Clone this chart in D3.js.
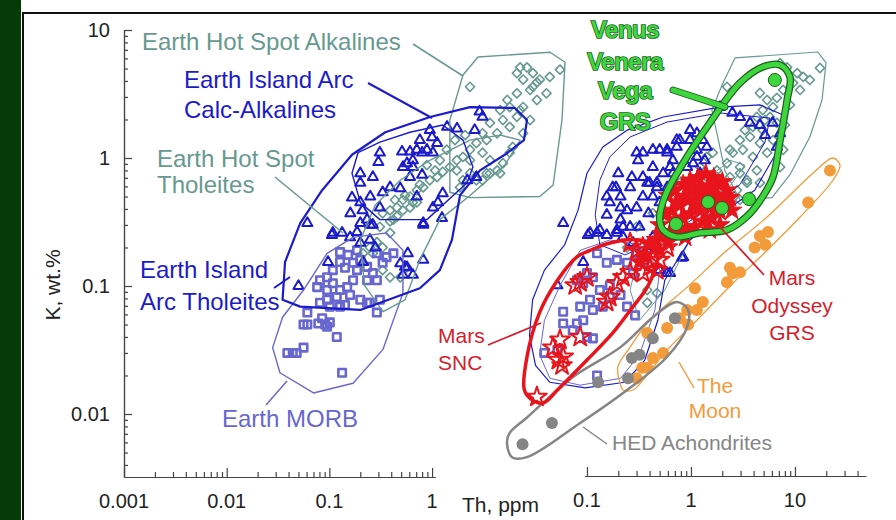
<!DOCTYPE html>
<html>
<head>
<meta charset="utf-8">
<script src="https://cdn.jsdelivr.net/npm/d3@7"></script>
<style>
  html, body { margin: 0; padding: 0; background: #fff; }
  svg { display: block; font-family: "Liberation Sans", Arial, sans-serif; }
</style>
</head>
<body>
<script>
// ---- data: [Th ppm, K wt.%] ----
// left panel (Earth only)
const leftArc = [
  [2.9,2.3],[3.1,2.1],[2.6,1.65],[1.75,1.7],[1.4,1.75],[0.95,1.65],[1.0,1.45],[0.76,1.38],[0.51,1.12],[0.31,1.1],
  [0.61,1.12],[0.71,1.16],[0.8,1.1],[0.89,1.16],[1.02,1.1],[1.12,1.31],[0.65,0.96],[0.57,0.91],[0.52,0.85],[0.65,0.85],
  [0.8,0.74],[0.61,0.71],[0.3,0.93],[0.2,0.76],[0.265,0.71],[0.2,0.64],[0.39,0.59],[0.49,0.58],[0.33,0.54],[1.27,0.53],
  [0.166,0.49],[0.2,0.45],[0.25,0.5],[0.21,0.39],[0.31,0.41],[0.16,0.37],[0.061,0.31],[0.108,0.26],[0.2,0.31],[0.25,0.3],
  [0.82,0.31],[1.25,0.34],[2.2,0.67],[2.7,0.71],[1.14,0.45],[0.71,0.5],[0.106,0.25],[0.133,0.26],[0.159,0.24],[0.186,0.264],
  [0.233,0.33],[0.265,0.3],[0.248,0.229],[0.2,0.217],[0.28,0.2],[0.097,0.154],[0.05,0.1],[0.213,0.154],[0.49,0.15],[0.52,0.122],
  [0.65,0.122],[0.57,0.14],[0.82,0.16],[0.82,0.3],[0.58,0.18],[1.02,0.41],[0.545,0.141]
];
const leftHotSpot = [
  [2.34,3.6],[6.7,4.6],[8.4,5.1],[9.6,4.6],[7.7,4.1],[10.5,3.9],[9.0,3.4],[6.7,3.2],[5.4,2.84],[5.7,2.5],
  [4.6,2.37],[7.7,2.5],[6.7,2.1],[4.9,1.98],[3.66,1.88],[5.7,1.75],[4.3,1.56],[3.1,1.56],[3.4,1.38],[2.7,1.31],
  [2.34,1.16],[2.0,1.02],[1.74,0.96],[2.34,0.96],[1.49,0.85],[1.27,0.78],[1.74,0.8],[1.12,0.71],[0.95,0.67],[0.82,0.59],
  [0.71,0.56],[0.61,0.5],[0.52,0.47],[0.455,0.41],[0.39,0.39],[0.61,0.41],[0.71,0.45],[0.33,0.37],[0.455,0.35],[0.39,0.32],
  [0.31,0.29],[3.4,0.76],[2.7,0.67],[4.3,0.8],[4.9,0.91],[5.7,1.1],[3.66,0.96],[3.1,1.1],[2.34,0.76],[2.0,0.67],
  [7.2,5.1],[11.2,4.1],[14,4.3],[17.6,4.9],[9.6,3.6],[13,3.2],[10.5,2.84],[7.2,2.37],[9.0,1.98],[7.7,1.56],
  [6.1,1.22],[3.66,0.76],[4.6,0.76],[3.1,0.67],[1.87,0.59],[0.42,0.33],[0.39,0.26],[0.29,0.22],[0.248,0.2],[0.33,0.2],
  [0.52,0.39],[0.65,0.45],[0.213,0.18],[0.57,0.14],[0.49,0.117],[0.265,0.18],[0.33,0.133],[0.39,0.117],[0.89,0.88],[1.19,0.96],
  [1.39,1.16],[1.67,1.38],[2.1,1.51],[1.07,0.8],[0.76,0.62],[0.545,0.51],[0.435,0.47]
];
const leftMorb = [
  [0.127,0.184],[0.152,0.175],[0.127,0.154],[0.17,0.152],[0.2,0.16],[0.186,0.133],[0.17,0.111],[0.149,0.098],[0.127,0.093],[0.108,0.105],
  [0.095,0.117],[0.081,0.111],[0.076,0.098],[0.095,0.093],[0.118,0.082],[0.095,0.078],[0.081,0.074],[0.101,0.069],[0.127,0.069],[0.233,0.141],
  [0.29,0.18],[0.36,0.168],[0.42,0.18],[0.33,0.152],[0.265,0.126],[0.233,0.111],[0.29,0.111],[0.2,0.078],[0.248,0.074],[0.31,0.078],
  [0.186,0.19],[0.061,0.062],[0.056,0.05],[0.078,0.051],[0.095,0.048],[0.085,0.056],[0.101,0.052],[0.118,0.04],[0.29,0.062],[0.044,0.03],
  [0.039,0.03],[0.056,0.033],[0.133,0.021],[0.048,0.03],[0.091,0.05],[0.061,0.05],[0.233,0.074],[0.108,0.133],[0.142,0.139],[0.159,0.085],
  [0.142,0.071]
];
// right panel
const rightArc = [
  [0.98,1.65],[1.14,1.56],[0.78,1.38],[0.73,1.22],[0.98,1.38],[1.3,1.38],[0.59,1.1],[0.67,0.96],[0.5,1.16],[0.3,1.1],
  [0.31,0.96],[0.43,0.85],[0.54,0.76],[0.67,0.76],[0.92,0.85],[1.14,1.02],[1.22,0.76],[0.2,0.76],[0.27,0.71],[0.19,0.59],
  [0.21,0.5],[0.166,0.45],[0.38,0.64],[0.47,0.59],[0.59,0.59],[0.43,0.5],[0.345,0.5],[0.5,0.45],[0.3,0.41],[0.243,0.39],
  [0.155,0.36],[0.133,0.274],[0.107,0.26],[0.059,0.31],[0.194,0.274],[0.26,0.29],[0.21,0.33],[0.39,0.37],[0.73,1.38],[0.59,1.16],
  [0.43,1.16],[0.345,1.1],[1.14,1.16],[1.42,1.22],[1.36,0.96],[1.05,0.91],[2.5,2.25],[2.96,2.09],[3.7,1.88],[6.1,1.88],
  [7.2,1.56],[6.7,1.22],[0.63,0.85],[0.47,0.64],[0.102,0.25],[0.125,0.26],[0.155,0.25],[0.194,0.26],[0.222,0.242],[0.092,0.154],
  [0.052,0.101],[0.82,0.166],[0.63,0.126],[0.5,0.133],[0.155,0.5],[0.21,0.41],[0.177,0.59],[0.26,0.59],[0.345,0.71],[0.4,0.64],
  [0.222,0.29],[0.32,0.29],[0.43,0.242],[0.277,0.217],[0.38,0.19],[0.84,0.168],[0.59,0.126],[1.9,2.5],[4.6,1.81],[5.15,1.51]
];
const rightHotSpot = [
  [7.2,5.5],[8.4,5.1],[10.5,4.6],[12,4.3],[17.4,5.05],[9.6,3.86],[7.7,3.4],[6.7,2.95],[5.4,2.84],[6.15,2.5],
  [4.9,2.37],[4.3,2.09],[5.75,2.09],[6.7,1.88],[3.94,1.75],[4.9,1.65],[3.7,1.46],[2.96,1.38],[4.6,1.31],[6.15,1.38],
  [3.16,1.16],[2.53,1.1],[3.94,1.02],[5.4,1.1],[2.22,0.91],[2.96,0.85],[4.3,0.8],[1.78,0.8],[2.37,0.71],[3.46,0.67],
  [1.42,0.71],[1.9,0.59],[2.77,0.56],[4.6,0.64],[2.96,0.47],[3.7,0.5],[2.03,0.5],[7.2,0.85],[7.7,1.16],[2.22,3.6],
  [4.6,3.22],[11.2,3.4],[13.9,4.07],[1.42,1.02],[1.22,0.85],[1.62,1.1],[1.78,0.71],[0.78,0.64],[0.43,0.37],[0.3,0.29],
  [2.96,0.76],[3.46,0.64],[0.4,0.217],[0.32,0.16],[0.5,0.19],[0.38,0.093],[0.47,0.088],[0.243,0.2],[0.38,0.074],[0.98,0.56],
  [1.22,0.47],[2.37,1.16],[3.3,1.65],[5.15,1.98],[8.95,2.6],[8.0,1.81]
];
const rightMorb = [
  [0.125,0.18],[0.155,0.152],[0.1,0.126],[0.114,0.117],[0.092,0.105],[0.133,0.093],[0.166,0.082],[0.107,0.078],[0.086,0.069],[0.114,0.065],
  [0.142,0.069],[0.194,0.16],[0.243,0.152],[0.3,0.18],[0.345,0.152],[0.277,0.126],[0.243,0.069],[0.29,0.059],[0.059,0.063],[0.059,0.051],
  [0.08,0.051],[0.073,0.045],[0.114,0.039],[0.1,0.04],[0.039,0.03],[0.052,0.0316],[0.125,0.02],[0.092,0.054],[0.08,0.111],[0.166,0.101],
  [0.21,0.085]
];
const marsSnc = [
  [0.033,0.0136],[0.053,0.0264],[0.0575,0.024],[0.047,0.033],[0.055,0.038],[0.086,0.04],[0.077,0.101],[0.086,0.107],[0.155,0.075],[0.166,0.082],
  [0.194,0.105],[0.222,0.117],[0.26,0.128],[0.345,0.126],[0.4,0.141],[0.47,0.133],[0.43,0.16],[0.3,0.19],[0.345,0.2],[0.26,0.217],
  [0.59,0.2],[0.059,0.028],[0.1,0.117],[0.5,0.16]
];
const marsOdyssey = [
  [0.6,0.51],[0.7,0.56],[0.84,0.62],[0.98,0.67],[1.17,0.7],[1.39,0.75],[1.66,0.7],[2.0,0.65],[2.22,0.56],[2.37,0.49],
  [2.17,0.43],[1.9,0.38],[1.59,0.34],[1.3,0.32],[1.09,0.29],[0.9,0.28],[0.75,0.274],[0.63,0.264],[0.53,0.255],[0.46,0.23],
  [0.66,0.39],[0.78,0.43],[0.94,0.47],[1.12,0.51],[1.33,0.54],[1.59,0.51],[1.81,0.47],[1.52,0.41],[1.22,0.39],[0.98,0.365],
  [0.82,0.34],[0.7,0.33],[1.02,0.59],[1.22,0.6],[1.46,0.6],[0.86,0.5],[0.72,0.45],[0.56,0.36],[0.5,0.3],[0.4,0.21],
  [0.36,0.175],[0.32,0.154],[0.5,0.19],[0.6,0.22],[0.88,0.24],[1.52,0.274],[1.9,0.3],[2.48,0.39],[1.7,0.58],[1.09,0.43],
  [1.36,0.47],[2.12,0.51]
];
const moon = [
  [21.7,0.8],[13.4,0.45],[5.5,0.264],[4.6,0.246],[4.1,0.2],[5.2,0.21],[2.96,0.128],[2.53,0.126],[2.22,0.107],[2.37,0.139],
  [1.3,0.075],[1.14,0.065],[0.92,0.065],[0.94,0.05],[0.78,0.056],[1.09,0.096],[0.59,0.047],[0.38,0.043],[0.54,0.03],[0.43,0.0274],
  [0.34,0.023],[0.3,0.019],[0.38,0.023]
];
const hed = [[0.024,0.0058],[0.046,0.0085],[0.128,0.0177],[0.248,0.019],[0.27,0.0274],[0.32,0.029],[0.43,0.039],[0.7,0.056]];
const venus = [[6.4,4.07],[1.46,0.453],[1.99,0.407],[3.61,0.478],[0.717,0.305]];

// field envelopes
const envLeftAlk = [[2.0,4.45],[2.8,6.15],[14.1,6.7],[19.7,5.6],[18.4,1.98],[15.1,0.615],[11.2,0.5],[2.34,0.49],[1.49,0.54],[1.49,1.98]];
const envLeftArc = [[0.035,0.078],[0.037,0.154],[0.052,0.31],[0.085,0.56],[0.166,1.06],[0.35,1.59],[0.955,2.09],[2.34,2.5],[6.4,2.46],[8.4,1.98],
  [7.85,1.38],[5.1,1.06],[2.93,0.8],[1.87,0.51],[1.56,0.229],[1.19,0.133],[0.76,0.096],[0.2,0.065],[0.052,0.069]];
const envLeftCalc = [[1.27,1.81],[2.0,1.38],[2.5,0.85],[2.19,0.64],[0.89,0.33],[0.31,0.33],[0.2,0.45],[0.166,0.76],[0.19,1.1],[0.31,1.33],[0.61,1.59]];
const envLeftThol = [[0.333,0.063],[0.22,0.101],[0.2,0.229],[0.28,0.43],[0.49,0.67],[0.95,0.96],[2.34,1.38],[4.6,1.51],[7.2,1.38],[5.1,0.88],
  [2.34,0.51],[1.19,0.33],[0.76,0.16],[0.545,0.078]];
const envLeftMorb = [[0.056,0.093],[0.095,0.18],[0.17,0.24],[0.36,0.26],[0.52,0.19],[0.52,0.088],[0.333,0.032],[0.17,0.0174],[0.07,0.0146],[0.033,0.021],[0.028,0.033],[0.035,0.057]];
const envRightAlk = [[1.99,3.72],[2.65,6.05],[16.6,6.73],[19.9,5.53],[18.2,2.84],[13.9,1.46],[8.95,0.74],[6.0,0.49],[2.96,0.47],[2.12,0.8],[1.59,2.37]];
const envRightArc = [[1.9,2.5],[0.54,2.09],[0.243,1.65],[0.142,1.22],[0.1,0.76],[0.082,0.39],[0.061,0.21],[0.039,0.133],[0.03,0.078],[0.028,0.041],
  [0.032,0.024],[0.044,0.0177],[0.096,0.016],[0.232,0.0177],[0.36,0.0264],[0.48,0.054],[0.56,0.111],[0.98,0.229],[1.9,0.36],[4.1,0.56],
  [6.9,1.16],[7.7,2.17],[4.6,2.6]];
const envRightCalc = [[1.9,2.25],[0.59,1.91],[0.26,1.46],[0.166,1.02],[0.133,0.67],[0.12,0.36],[0.133,0.21],[0.232,0.175],[0.5,0.229],[1.22,0.36],
  [2.96,0.62],[5.15,1.33],[5.75,2.05]];
const envRightThol = [[0.32,0.054],[0.26,0.093],[0.32,0.19],[0.63,0.36],[1.22,0.62],[2.37,0.96],[3.3,0.88],[1.9,0.47],[0.98,0.23],[0.56,0.093]];
const envRightMorb = [[0.086,0.19],[0.055,0.101],[0.039,0.054],[0.035,0.029],[0.044,0.019],[0.086,0.0168],[0.21,0.019],[0.32,0.029],[0.45,0.065],[0.5,0.133],[0.32,0.21],[0.166,0.229]];
const envSnc = [[0.08,0.169],[0.052,0.111],[0.035,0.062],[0.0265,0.028],[0.025,0.0154],[0.0296,0.0129],[0.038,0.0122],[0.052,0.0154],[0.1,0.0264],
  [0.177,0.043],[0.277,0.069],[0.38,0.098],[0.47,0.152],[0.47,0.2],[0.32,0.229],[0.166,0.217],[0.107,0.19]];
const envVenus = [[0.5,0.33],[0.56,0.5],[0.84,0.91],[1.52,1.88],[2.96,3.86],[4.9,5.14],[7.2,5.33],[8.95,4.29],[8.4,2.84],[7.2,1.38],
  [6.15,0.71],[4.9,0.5],[3.46,0.35],[2.22,0.274],[1.22,0.26],[0.73,0.242],[0.54,0.274]];
const envMoon = [[0.208,0.0174],[0.198,0.0233],[0.26,0.0333],[0.4,0.054],[0.92,0.098],[2.22,0.19],[5.4,0.346],[14.9,0.76],[23.2,1.0],[27.1,0.88],
  [23.2,0.67],[11.2,0.346],[5.4,0.19],[2.53,0.105],[1.14,0.054],[0.59,0.0316],[0.345,0.0184],[0.277,0.0154],[0.222,0.0154]];
const envHed = [[0.73,0.075],[0.94,0.065],[0.92,0.048],[0.59,0.028],[0.243,0.0154],[0.086,0.0085],[0.0265,0.0046],[0.019,0.0046],[0.017,0.006],
  [0.018,0.0071],[0.0265,0.0094],[0.073,0.0194],[0.21,0.0333],[0.43,0.057]];

// ticks
const yMajor = [0.01, 0.1, 1, 10];
const yLabels = ["0.01", "0.1", "1", "10"];
const xLeftMajor = [0.001, 0.01, 0.1, 1];
const xLeftLabels = ["0.001", "0.01", "0.1", "1"];
const xRightMajor = [0.1, 1, 10];
const xRightLabels = ["0.1", "1", "10"];

// ---- setup ----
const width = 896, height = 520;
const svg = d3.select("body").append("svg").attr("width", width).attr("height", height);

svg.append("rect").attr("width", width).attr("height", height).attr("fill", "#fff");
svg.append("rect").attr("width", 21).attr("height", height).attr("fill", "#053b06");
svg.append("line").attr("x1", 22).attr("x2", width).attr("y1", 13).attr("y2", 13).attr("stroke", "#111").attr("stroke-width", 2);
svg.append("line").attr("x1", 23).attr("x2", 23).attr("y1", 12).attr("y2", height).attr("stroke", "#111").attr("stroke-width", 2);

const y = d3.scaleLog().domain([0.00322, 10]).range([477, 30]);
const xL = d3.scaleLog().domain([0.001, 1.07]).range([124, 435.1]);
const xR = d3.scaleLog().domain([0.0955, 48]).range([584.9, 865.8]);

const teal = "#66998f", blue = "#1b1bcc", slate = "#6767cf", red = "#e8141c",
  redText = "#d4202c", orange = "#f39b3a", gray = "#858585", green = "#3dd63d", greenDark = "#1e5e1e";

// minor log ticks (2..9 in each decade) inside a domain
function minors(scale) {
  const [lo, hi] = scale.domain();
  const out = [];
  for (let e = -4; e <= 2; e++)
    for (let m = 2; m <= 9; m++) {
      const v = m * Math.pow(10, e);
      if (v >= lo && v <= hi) out.push(v);
    }
  return out;
}

function styleAxis(g) {
  g.selectAll("path, line").attr("stroke", "#444").attr("stroke-width", 1.2);
  g.selectAll("text").remove();
}

// y axis (ticks point inward)
svg.append("g").attr("transform", "translate(124,0)")
  .call(d3.axisLeft(y).tickValues(minors(y)).tickSizeInner(-4).tickSizeOuter(0)).call(styleAxis);
svg.append("g").attr("transform", "translate(124,0)")
  .call(d3.axisLeft(y).tickValues(yMajor).tickSizeInner(-8).tickSizeOuter(0)).call(styleAxis);
// left x axis
svg.append("g").attr("transform", "translate(0,477)")
  .call(d3.axisBottom(xL).tickValues(minors(xL)).tickSizeInner(-5).tickSizeOuter(0)).call(styleAxis);
svg.append("g").attr("transform", "translate(0,477)")
  .call(d3.axisBottom(xL).tickValues(xLeftMajor).tickSizeInner(-9).tickSizeOuter(0)).call(styleAxis);
// right x axis
svg.append("g").attr("transform", "translate(0,476)")
  .call(d3.axisBottom(xR).tickValues(minors(xR)).tickSizeInner(-5).tickSizeOuter(0)).call(styleAxis);
svg.append("g").attr("transform", "translate(0,476)")
  .call(d3.axisBottom(xR).tickValues(xRightMajor).tickSizeInner(-9).tickSizeOuter(0)).call(styleAxis);

const tickText = { fill: "#222", size: "20px" };
svg.append("g").selectAll("text").data(yMajor).join("text")
  .attr("x", 110).attr("y", d => y(d)).attr("dy", "0.35em")
  .attr("text-anchor", "end").attr("font-size", tickText.size).attr("fill", tickText.fill)
  .text((d, i) => yLabels[i]);
svg.append("g").selectAll("text").data(xLeftMajor).join("text")
  .attr("x", d => xL(d)).attr("y", 508)
  .attr("text-anchor", "middle").attr("font-size", tickText.size).attr("fill", tickText.fill)
  .text((d, i) => xLeftLabels[i]);
svg.append("g").selectAll("text").data(xRightMajor).join("text")
  .attr("x", d => xR(d)).attr("y", 507)
  .attr("text-anchor", "middle").attr("font-size", tickText.size).attr("fill", tickText.fill)
  .text((d, i) => xRightLabels[i]);

svg.append("text").attr("transform", "translate(60,285) rotate(-90)")
  .attr("text-anchor", "middle").attr("font-size", "21px").attr("fill", "#222").text("K, wt.%");
svg.append("text").attr("x", 462).attr("y", 512)
  .attr("font-size", "21px").attr("fill", "#222").text("Th, ppm");

// ---- helpers ----
function envelope(data, xs, color, w, curve) {
  const line = d3.line().x(d => xs(d[0])).y(d => y(d[1])).curve(curve || d3.curveLinearClosed);
  return svg.append("path").attr("d", line(data)).attr("fill", "none")
    .attr("stroke", color).attr("stroke-width", w).attr("stroke-linejoin", "round");
}

function symbols(data, xs, type, size, o) {
  svg.append("g").selectAll("path").data(data).join("path")
    .attr("d", d3.symbol().type(type).size(size)())
    .attr("transform", d => `translate(${xs(d[0])},${y(d[1])})` + (o.rotate ? " rotate(45)" : ""))
    .attr("fill", o.fill || "none")
    .attr("stroke", o.stroke || "none")
    .attr("stroke-width", o.sw || 0)
    .attr("stroke-linejoin", "round");
}

function dots(data, xs, r, fill, stroke) {
  svg.append("g").selectAll("circle").data(data).join("circle")
    .attr("cx", d => xs(d[0])).attr("cy", d => y(d[1])).attr("r", r)
    .attr("fill", fill).attr("stroke", stroke || "none").attr("stroke-width", stroke ? 1 : 0);
}

// ---- Earth fields, both panels ----
[[xL, leftHotSpot, leftMorb, leftArc], [xR, rightHotSpot, rightMorb, rightArc]].forEach(([xs, hs, mo, arc]) => {
  symbols(hs, xs, d3.symbolSquare, 42, { stroke: teal, sw: 1.6, rotate: true });
  symbols(mo, xs, d3.symbolSquare, 56, { stroke: slate, sw: 2.6 });
  symbols(arc, xs, d3.symbolTriangle, 44, { stroke: blue, sw: 2 });
});

envelope(envLeftMorb, xL, slate, 1.4);
envelope(envLeftThol, xL, teal, 1.4);
envelope(envLeftAlk, xL, teal, 1.4);
envelope(envLeftCalc, xL, blue, 1.4);
envelope(envLeftArc, xL, blue, 2.2);

envelope(envRightMorb, xR, slate, 1);
envelope(envRightThol, xR, teal, 1);
envelope(envRightAlk, xR, teal, 1.2);
envelope(envRightCalc, xR, blue, 1);
envelope(envRightArc, xR, blue, 1.2);

// ---- planetary data ----
symbols(marsOdyssey, xR, d3.symbolStar, 120, { fill: red, stroke: red, sw: 1 });
symbols(marsSnc, xR, d3.symbolStar, 120, { stroke: red, sw: 2 });
dots(moon, xR, 6, orange);
dots(hed, xR, 6, gray);

envelope(envMoon, xR, orange, 1.3, d3.curveCatmullRomClosed);
envelope(envHed, xR, gray, 2.5, d3.curveCatmullRomClosed);
envelope(envSnc, xR, red, 3.5, d3.curveCatmullRomClosed);
envelope(envVenus, xR, greenDark, 7.5, d3.curveCatmullRomClosed);
envelope(envVenus, xR, green, 5, d3.curveCatmullRomClosed);
dots(venus, xR, 6.5, green, greenDark);

// ---- labels with leader lines ----
const notes = [
  { lines: ["Earth Hot Spot Alkalines"], x: 142, y: [50], color: teal, size: 24, leader: [[413, 44], [463, 76]], lw: 1.5 },
  { lines: ["Earth Island Arc", "Calc-Alkalines"], x: 184, y: [88, 118], color: blue, size: 24, leader: [[368, 83], [432, 118]], lw: 2 },
  { lines: ["Earth Hot Spot", "Tholeites"], x: 157, y: [167, 193], color: teal, size: 24, leader: [[275, 177], [343, 233]], lw: 1.5 },
  { lines: ["Earth Island", "Arc Tholeites"], x: 140, y: [278, 310], color: blue, size: 24, leader: [[274, 288], [290, 277]], lw: 2 },
  { lines: ["Earth MORB"], x: 222, y: [427], color: slate, size: 24, leader: [[266, 405], [287, 381]], lw: 1.5 },
  { lines: ["Mars", "SNC"], x: 438, y: [343, 370], color: redText, size: 21, leader: [[488, 345], [541, 323]], lw: 1.8 },
  { lines: ["Mars", "Odyssey", "GRS"], x: 792, y: [285, 313, 340], color: redText, size: 21, anchor: "middle", leader: [[764, 275], [707, 213]], lw: 1.8 },
  { lines: ["The", "Moon"], x: 715, y: [393, 418], color: orange, size: 21, anchor: "middle", leader: [[679, 362], [694, 388]], lw: 1.5 },
  { lines: ["HED Achondrites"], x: 612, y: [450], color: gray, size: 21, leader: [[583, 427], [607, 444]], lw: 1.5 }
];

notes.forEach(n => {
  svg.append("line").attr("x1", n.leader[0][0]).attr("y1", n.leader[0][1])
    .attr("x2", n.leader[1][0]).attr("y2", n.leader[1][1])
    .attr("stroke", n.color).attr("stroke-width", n.lw);
  n.lines.forEach((t, i) => {
    svg.append("text").attr("x", n.x).attr("y", n.y[i])
      .attr("text-anchor", n.anchor || "start")
      .attr("font-size", n.size + "px").attr("fill", n.color).text(t);
  });
});

// Venus label: bold green with dark outline
svg.append("line").attr("x1", 673).attr("y1", 90).attr("x2", 725).attr("y2", 107)
  .attr("stroke", greenDark).attr("stroke-width", 7).attr("stroke-linecap", "round");
svg.append("line").attr("x1", 673).attr("y1", 90).attr("x2", 725).attr("y2", 107)
  .attr("stroke", green).attr("stroke-width", 5).attr("stroke-linecap", "round");
["Venus", "Venera", "Vega", "GRS"].forEach((t, i) => {
  svg.append("text").attr("x", 625).attr("y", [38, 70, 99, 130][i])
    .attr("text-anchor", "middle").attr("font-size", "24px").attr("font-weight", "bold")
    .attr("fill", green).attr("stroke", greenDark).attr("stroke-width", 1.6)
    .attr("paint-order", "stroke").attr("letter-spacing", "-0.5px").text(t);
});
</script>
</body>
</html>
